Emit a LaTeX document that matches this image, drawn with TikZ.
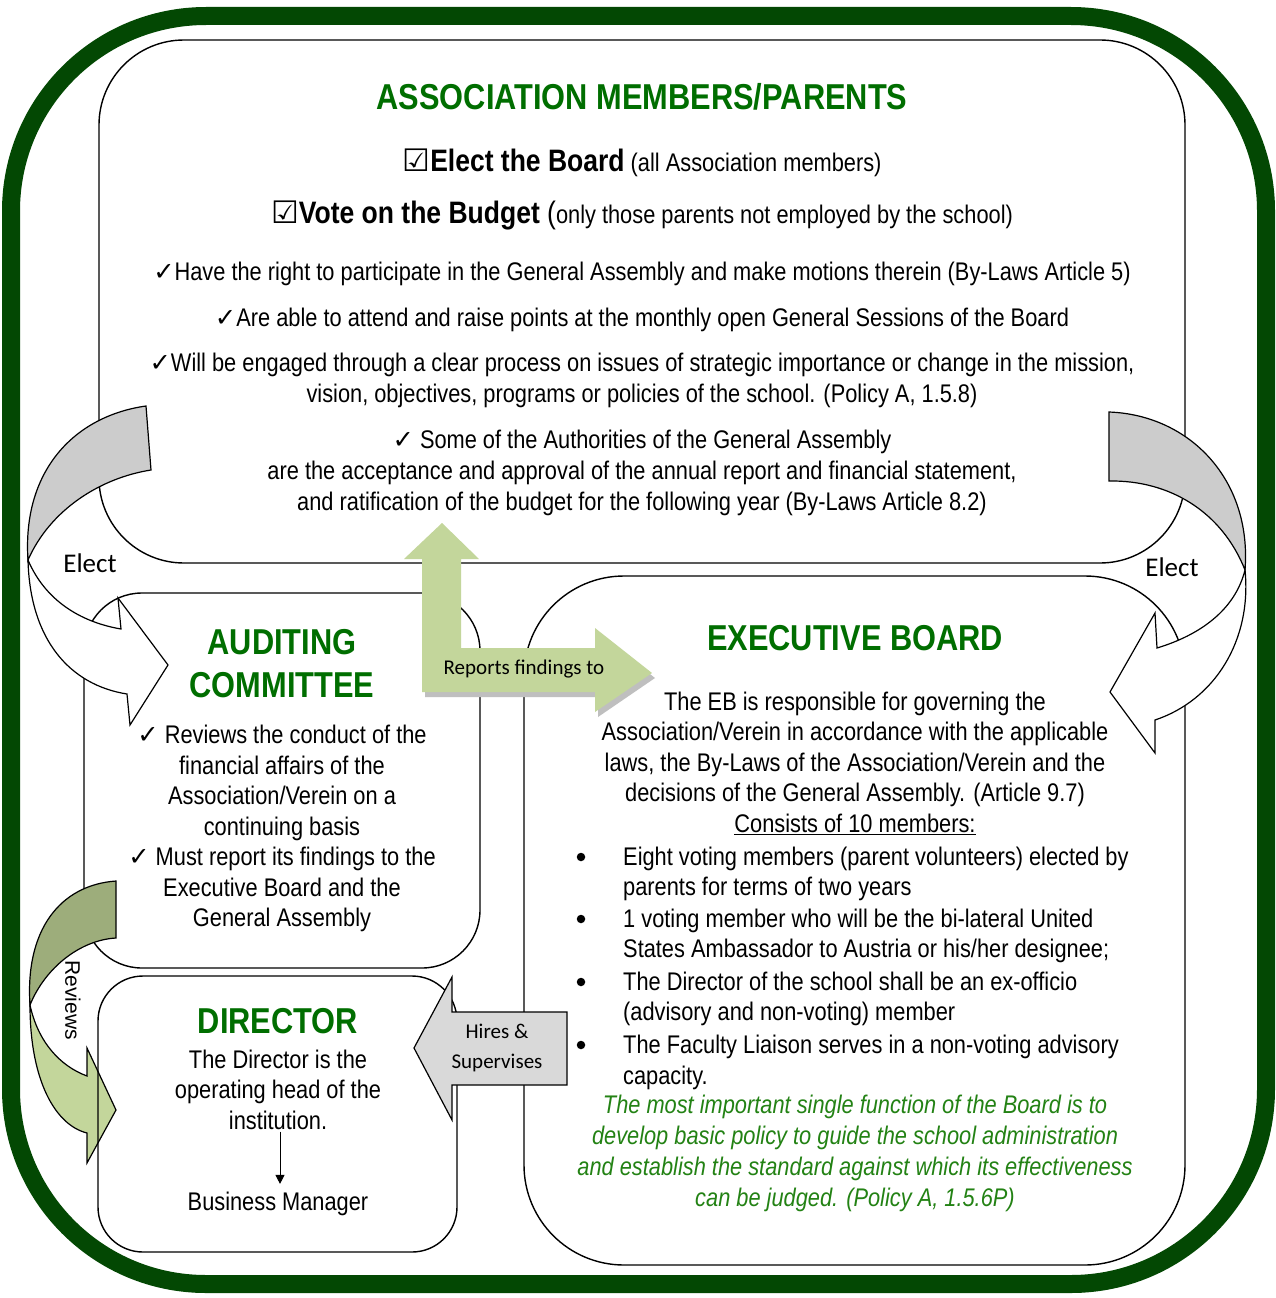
\documentclass[tikz,border=0pt]{standalone}
\usepackage{fontspec}
\setmainfont{Liberation Sans}[FakeStretch=0.855]
\newfontfamily\calib{Carlito}
\newfontfamily\arialf{Liberation Sans}
\newfontfamily\symf{DejaVu Sans}
\usetikzlibrary{arrows.meta}
\definecolor{framegreen}{RGB}{3,72,3}
\definecolor{titlegreen}{RGB}{0,110,0}
\definecolor{italgreen}{RGB}{35,130,20}
\definecolor{lightolive}{RGB}{195,214,155}
\definecolor{darkolive}{RGB}{157,173,123}
\definecolor{backgray}{RGB}{204,204,204}
\definecolor{hiregray}{RGB}{217,217,217}
\newcommand\mychk{{\symf ✓}}
\newcommand\mybox{{\symf\bfseries ☑}}
\newcommand\bodyf{\fontsize{25.5}{31}\selectfont}
\tikzset{
  box/.style={draw, line width=1.4pt},
  body/.style={font=\bodyf, align=center, inner sep=0pt},
  bodyb/.style={font=\fontsize{25.5}{30.5}\selectfont, align=center, inner sep=0pt},
  heading/.style={font=\fontsize{36}{43}\selectfont\bfseries, text=titlegreen, align=center, inner sep=0pt},
  albl/.style={font=\calib\fontsize{21}{30}\selectfont, align=center, inner sep=0pt},
  blockarrow/.style={draw, line width=1.2pt, line join=miter},
  bulletdot/.style={circle, fill=black, inner sep=0pt, minimum size=8.5pt},
}
\begin{document}
\begin{tikzpicture}[x=1pt,y=-1pt]
\fill[white] (0,0) rectangle (1276,1298);
\useasboundingbox (0,0) rectangle (1276,1298);
% outer frame
\draw[line width=18pt, framegreen, rounded corners=195pt] (11,16) rectangle (1266,1284);
% boxes
\node[box, rounded corners=85pt, minimum width=1086pt, minimum height=523pt] (assoc) at (642,301.5) {};
\node[box, rounded corners=58pt, minimum width=396pt, minimum height=375pt] (audit) at (282,780.5) {};
\node[box, rounded corners=100pt, minimum width=661pt, minimum height=689pt] (eb) at (854.5,920.5) {};
% Reviews arrow
\draw[blockarrow, fill=darkolive] (116,881) .. controls (60,885) and (25,930) .. (30,1005) .. controls (45,968) and (80,940) .. (116,938) -- cycle;
\draw[blockarrow, fill=lightolive] (30,1005) .. controls (30,1080) and (55,1125) .. (87,1133) -- (87,1163) -- (116,1110) -- (87,1048) -- (87,1076) .. controls (60,1066) and (38,1042) .. (30,1005) -- cycle;
\node[box, rounded corners=45pt, minimum width=359pt, minimum height=276pt] (dir) at (277.5,1114) {};
% left Elect arrow
\draw[blockarrow, fill=backgray] (146,406) .. controls (75,416) and (22,470) .. (28,560) .. controls (50,510) and (100,478) .. (151,470) -- cycle;
\draw[blockarrow, fill=white] (28,560) .. controls (30,640) and (70,685) .. (127,694) -- (130,725) -- (168,665) -- (118,598) -- (121,629) .. controls (80,622) and (45,600) .. (28,560) -- cycle;
% right Elect arrow
\draw[blockarrow, fill=backgray] (1109,412) .. controls (1190,415) and (1252,480) .. (1245,570) .. controls (1222,512) and (1170,480) .. (1109,481) -- cycle;
\draw[blockarrow, fill=white] (1245,570) .. controls (1252,640) and (1215,700) .. (1155,720) -- (1155,753) -- (1110,692) -- (1155,613) -- (1157,648) .. controls (1200,635) and (1235,610) .. (1245,570) -- cycle;
% Reports findings arrow
\fill[gray!50, shift={(3,5)}] (422,650) -- (595,650) -- (595,628) -- (652,673) -- (595,712) -- (595,692) -- (422,692) -- cycle;
\fill[lightolive] (442,523) -- (479,559) -- (461,559) -- (461,648) -- (595,648) -- (595,628) -- (652,673) -- (595,712) -- (595,692) -- (422,692) -- (422,559) -- (404,559) -- cycle;
% Hires arrow
\draw[blockarrow, fill=hiregray] (414,1048) -- (452,977) -- (452,1012) -- (567,1012) -- (567,1085) -- (452,1085) -- (452,1120) -- cycle;

% Association text
\node[heading] (atitle) at (642,97) {ASSOCIATION MEMBERS/PARENTS};
\node[body] (a1) at (642,163) {{\fontsize{31}{31}\selectfont\mybox\textbf{Elect the Board}} {\fontsize{25.5}{31}\selectfont(all Association members)}};
\node[body] (a2) at (642,215) {{\fontsize{31}{31}\selectfont\mybox\textbf{Vote on the Budget} (}{\fontsize{25.5}{31}\selectfont only those parents not employed by the school)}};
\node[body] (a3) at (642,274) {\mychk Have the right to participate in the General Assembly and make motions therein (By-Laws Article 5)};
\node[body] (a4) at (642,320) {\mychk Are able to attend and raise points at the monthly open General Sessions of the Board};
\node[body] (a5) at (642,380.5) {\mychk Will be engaged through a clear process on issues of strategic importance or change in the mission,\\ vision, objectives, programs or policies of the school. (Policy A, 1.5.8)};
\node[body] (a6) at (642,473) {\mychk\ Some of the Authorities of the General Assembly\\ are the acceptance and approval of the annual report and financial statement,\\ and ratification of the budget for the following year (By-Laws Article 8.2)};

% Auditing text
\node[heading] (autitle) at (282,663.5) {AUDITING\\COMMITTEE};
\node[bodyb] (autext) at (282,828.5) {\mychk\ Reviews the conduct of the\\ financial affairs of the\\ Association/Verein on a\\ continuing basis\\ \mychk\ Must report its findings to the\\ Executive Board and the\\ General Assembly};

% Director text
\node[heading] (dtitle) at (278,1021) {DIRECTOR};
\node[bodyb] (dtxt) at (278,1089.5) {The Director is the\\ operating head of the\\ institution.};
\node[body] (bm) at (278,1204) {Business Manager};
\draw[-{Triangle[length=9pt,width=9pt]}, line width=1pt, shorten <=2pt, shorten >=8pt] ([xshift=2pt]dtxt.south) -- ([xshift=2pt]bm.north);

% Executive board text
\node[heading] (ebtitle) at (855,638) {EXECUTIVE BOARD};
\node[bodyb] (ebtxt) at (855,763) {The EB is responsible for governing the\\ Association/Verein in accordance with the applicable\\ laws, the By-Laws of the Association/Verein and the\\ decisions of the General Assembly. (Article 9.7)\\ \underline{Consists of 10 members:}};
\node[bulletdot] (b1) at (581,857) {};
\node[bulletdot] (b2) at (581,919) {};
\node[bulletdot] (b3) at (581,982) {};
\node[bulletdot] (b4) at (581,1045) {};
\node[bodyb, align=left, anchor=west] (i1) at (623,874) {Eight voting members (parent volunteers) elected by\\ parents for terms of two years};
\node[bodyb, align=left, anchor=west] (i2) at (623,936) {1 voting member who will be the bi-lateral United\\ States Ambassador to Austria or his/her designee;};
\node[bodyb, align=left, anchor=west] (i3) at (623,999) {The Director of the school shall be an ex-officio\\ (advisory and non-voting) member};
\node[bodyb, align=left, anchor=west] (i4) at (623,1062.5) {The Faculty Liaison serves in a non-voting advisory\\ capacity.};
\node[body, font=\fontsize{25.5}{31}\selectfont\itshape, text=italgreen] (ital) at (855,1153.5) {The most important single function of the Board is to\\ develop basic policy to guide the school administration\\ and establish the standard against which its effectiveness\\ can be judged. (Policy A, 1.5.6P)};

% arrow labels
\node[albl, font=\calib\fontsize{27}{30}\selectfont] (elL) at (90,563) {Elect};
\node[albl, font=\calib\fontsize{27}{30}\selectfont] (elR) at (1172,567) {Elect};
\node[albl] (rep) at (524,669) {Reports findings to};
\node[albl] (hire) at (497,1048) {Hires \&\\ Supervises};
\node[albl, font=\arialf\fontsize{21}{24}\selectfont, rotate=-90] (rev) at (73,1000) {Reviews};
\end{tikzpicture}
\end{document}
